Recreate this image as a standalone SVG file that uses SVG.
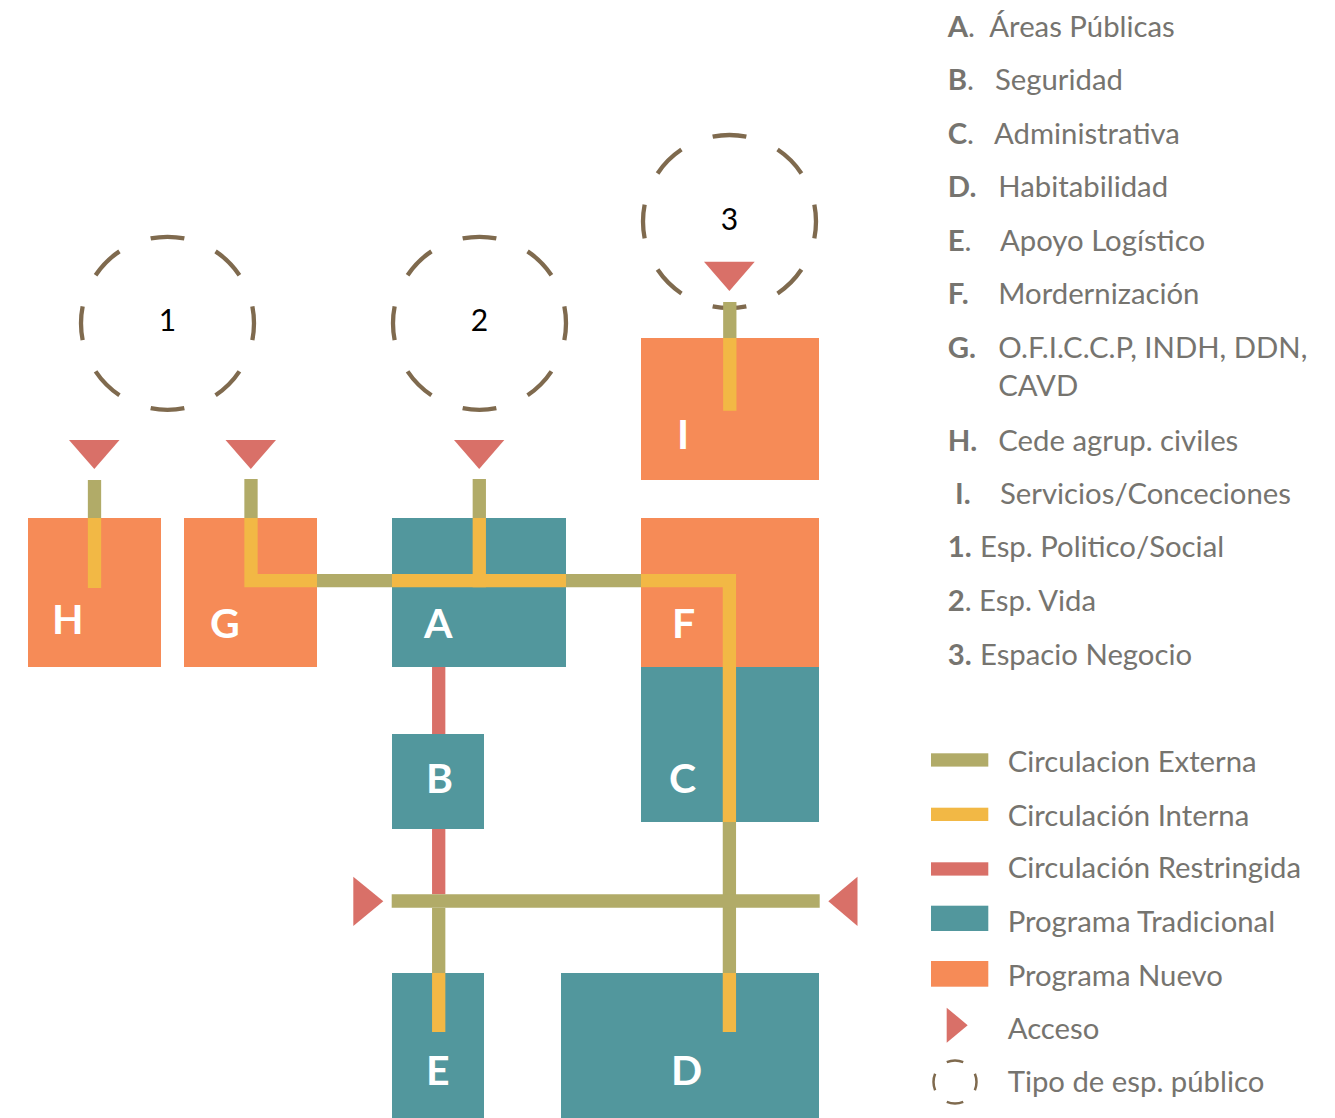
<svg xmlns="http://www.w3.org/2000/svg" width="1335" height="1118" viewBox="0 0 1335 1118">
<style>
.nuevo{fill:#F68B57}
.trad{fill:#52979D}
.lbl{font-family:Lato,"Open Sans","Liberation Sans",sans-serif;font-weight:700;font-size:41px;fill:#ffffff}
.ext{stroke:#B1AB68;stroke-width:13.3;fill:none}
.int{stroke:#F2B845;stroke-width:13.3;fill:none;stroke-linejoin:miter}
.res{stroke:#D97068;stroke-width:13.3;fill:none}
.acc{fill:#D97068}
.ring{fill:none;stroke:#7F6A4E;stroke-width:4.3}
.num{font-family:Lato,"Open Sans","Liberation Sans",sans-serif;font-size:30px;fill:#000000;text-anchor:middle}
.leg{font-family:Lato,"Open Sans","Liberation Sans",sans-serif;font-size:29.3px;fill:#76746F}
.b{font-weight:700}
</style>
<rect width="1335" height="1118" fill="#ffffff"/>

<g id="node-H"><rect class="nuevo" x="28" y="518" width="133" height="149"/><text class="lbl" x="52" y="634">H</text></g>
<g id="node-G"><rect class="nuevo" x="184" y="518" width="133" height="149"/><text class="lbl" x="210" y="638">G</text></g>
<g id="node-A"><rect class="trad" x="392" y="518" width="174" height="149"/><text class="lbl" x="424" y="638">A</text></g>
<g id="node-I"><rect class="nuevo" x="641" y="338" width="178" height="142"/><text class="lbl" x="677" y="449">I</text></g>
<g id="node-F"><rect class="nuevo" x="641" y="518" width="178" height="149"/><text class="lbl" x="672" y="638">F</text></g>
<g id="node-C"><rect class="trad" x="641" y="667" width="178" height="155"/><text class="lbl" x="669" y="793">C</text></g>
<g id="node-B"><rect class="trad" x="392" y="734" width="92" height="95"/><text class="lbl" x="426" y="793">B</text></g>
<g id="node-E"><rect class="trad" x="392" y="973" width="92" height="145"/><text class="lbl" x="426" y="1085">E</text></g>
<g id="node-D"><rect class="trad" x="561" y="973" width="258" height="145"/><text class="lbl" x="671" y="1085">D</text></g>

<g id="node-1"><circle class="ring" cx="167.5" cy="323.3" r="86.5" pathLength="800" stroke-dasharray="50 50" stroke-dashoffset="25"/><text class="num" x="167.5" y="331">1</text></g>
<g id="node-2"><circle class="ring" cx="479.5" cy="323.3" r="86.5" pathLength="800" stroke-dasharray="50 50" stroke-dashoffset="25"/><text class="num" x="479.5" y="331">2</text></g>
<g id="node-3"><circle class="ring" cx="729.5" cy="221.5" r="86.5" pathLength="800" stroke-dasharray="50 50" stroke-dashoffset="25"/><text class="num" x="729.5" y="230">3</text></g>

<g id="connectors">
<line class="ext" x1="94.5" y1="480" x2="94.5" y2="518"/>
<line class="ext" x1="251" y1="479" x2="251" y2="518"/>
<line class="ext" x1="479.3" y1="479" x2="479.3" y2="518"/>
<line class="ext" x1="729.8" y1="302" x2="729.8" y2="338"/>
<line class="int" x1="94.5" y1="518" x2="94.5" y2="588"/>
<line class="int" x1="729.8" y1="338" x2="729.8" y2="410.7"/>
<path class="int" d="M251 518 V580.7 H317"/>
<line class="ext" x1="317" y1="580.7" x2="392" y2="580.7"/>
<line class="int" x1="392" y1="580.7" x2="566" y2="580.7"/>
<line class="int" x1="479.3" y1="518" x2="479.3" y2="587.3"/>
<line class="ext" x1="566" y1="580.7" x2="641" y2="580.7"/>
<path class="int" d="M641 580.7 H729.4 V822"/>
<line class="ext" x1="729.4" y1="822" x2="729.4" y2="973"/>
<line class="int" x1="729.4" y1="973" x2="729.4" y2="1032"/>
<line class="res" x1="438.7" y1="667" x2="438.7" y2="734"/>
<line class="res" x1="438.7" y1="829" x2="438.7" y2="894.3"/>
<line class="ext" x1="391.7" y1="901" x2="819.7" y2="901"/>
<line class="ext" x1="438.7" y1="907.7" x2="438.7" y2="973"/>
<line class="int" x1="438.7" y1="973" x2="438.7" y2="1032"/>
</g>

<g id="accesos">
<polygon class="acc" points="69,440 119.5,440 94.3,469"/>
<polygon class="acc" points="225.5,440 276,440 250.8,469"/>
<polygon class="acc" points="454,440 504.3,440 479.2,469"/>
<polygon class="acc" points="704,261.7 754.7,261.7 729.4,291"/>
<polygon class="acc" points="353.3,876.7 383.3,901.3 353.3,926"/>
<polygon class="acc" points="857.5,876.7 828.3,901.3 857.5,926"/>
</g>

<g id="legend-program">
<text class="leg" y="37.3"><tspan class="b" x="947.7">A</tspan><tspan>.</tspan><tspan x="989.3">Áreas Públicas</tspan></text>
<text class="leg" y="90"><tspan class="b" x="947.7">B</tspan><tspan>.</tspan><tspan x="995">Seguridad</tspan></text>
<text class="leg" y="144"><tspan class="b" x="947.7">C</tspan><tspan>.</tspan><tspan x="994">Administrativa</tspan></text>
<text class="leg" y="197.3"><tspan class="b" x="947.7">D.</tspan><tspan x="998.3">Habitabilidad</tspan></text>
<text class="leg" y="250.7"><tspan class="b" x="947.7">E</tspan><tspan>.</tspan><tspan x="1000">Apoyo Logístico</tspan></text>
<text class="leg" y="304"><tspan class="b" x="947.7">F.</tspan><tspan x="998.3">Mordernización</tspan></text>
<text class="leg" y="358.3"><tspan class="b" x="947.7">G.</tspan><tspan x="998.3">O.F.I.C.C.P, INDH, DDN,</tspan></text>
<text class="leg" x="998.3" y="396">CAVD</text>
<text class="leg" y="450.7"><tspan class="b" x="947.7">H.</tspan><tspan x="998.3">Cede agrup. civiles</tspan></text>
<text class="leg" y="504"><tspan class="b" x="955">I.</tspan><tspan x="1000">Servicios/Conceciones</tspan></text>
<text class="leg" y="557.3"><tspan class="b" x="947.7">1.</tspan><tspan x="980">Esp. Politico/Social</tspan></text>
<text class="leg" y="610.7"><tspan class="b" x="947.7">2</tspan><tspan>. Esp. Vida</tspan></text>
<text class="leg" y="665"><tspan class="b" x="947.7">3.</tspan><tspan x="980">Espacio Negocio</tspan></text>
</g>

<g id="legend-symbols">
<rect x="931" y="753.3" width="57.3" height="13.3" fill="#B1AB68"/>
<text class="leg" x="1007.7" y="771.7">Circulacion Externa</text>
<rect x="931" y="807.7" width="57.3" height="13.3" fill="#F2B845"/>
<text class="leg" x="1007.7" y="825.7">Circulación Interna</text>
<rect x="931" y="862.3" width="57.3" height="13.3" fill="#D97068"/>
<text class="leg" x="1007.7" y="878.3">Circulación Restringida</text>
<rect x="931" y="905.7" width="57.3" height="25.3" fill="#52979D"/>
<text class="leg" x="1007.7" y="932.3">Programa Tradicional</text>
<rect x="931" y="961" width="57.3" height="25.7" fill="#F68B57"/>
<text class="leg" x="1007.7" y="985.7">Programa Nuevo</text>
<polygon class="acc" points="946.7,1007.7 967.7,1025.2 946.7,1042.7"/>
<text class="leg" x="1007.7" y="1039.3">Acceso</text>
<circle cx="955" cy="1082" r="21.5" fill="none" stroke="#7F6A4E" stroke-width="2.5" pathLength="400" stroke-dasharray="50 50" stroke-dashoffset="25"/>
<text class="leg" x="1007.7" y="1091.7">Tipo de esp. público</text>
</g>
</svg>
